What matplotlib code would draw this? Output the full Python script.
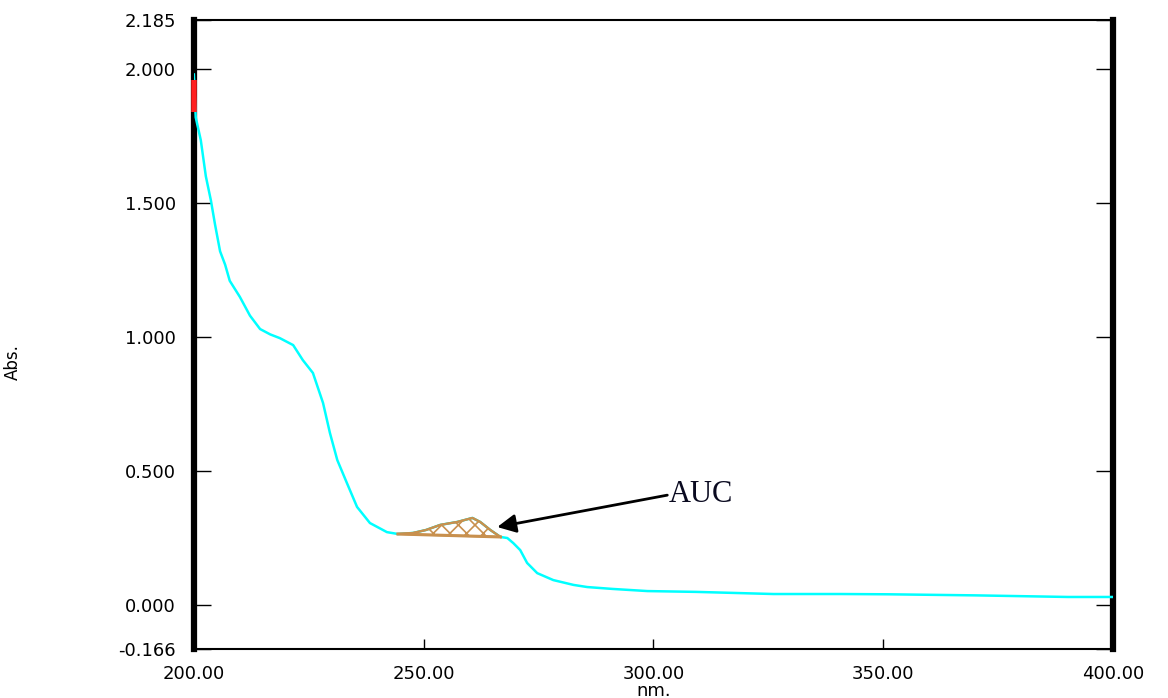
import matplotlib
matplotlib.use("Agg")
import matplotlib.pyplot as plt
import numpy as np

# UV spectrum (wavelength nm, absorbance)
wl = [200.0, 200.4, 201.5, 202.6, 203.7, 204.6, 205.7, 206.8, 207.8, 210.0,
      212.2, 214.4, 216.6, 218.7, 221.6, 223.7, 225.9, 228.1, 229.6, 231.2,
      233.3, 235.5, 238.3, 242.0, 244.4, 247.7, 250.5, 253.6, 257.3, 260.6,
      262.3, 264.5, 266.7, 268.2, 269.5, 271.0, 272.5, 274.7, 278.2, 282.6,
      285.6, 291.1, 298.7, 309.2, 326.1, 340.7, 351.0, 370.0, 390.2, 400.0]
absb = [1.98, 1.82, 1.735, 1.60, 1.51, 1.42, 1.32, 1.27, 1.21, 1.15,
        1.08, 1.03, 1.01, 0.996, 0.97, 0.914, 0.866, 0.754, 0.642, 0.541,
        0.455, 0.366, 0.306, 0.272, 0.265, 0.269, 0.28, 0.299, 0.310, 0.325,
        0.310, 0.280, 0.254, 0.250, 0.231, 0.205, 0.157, 0.119, 0.093, 0.075,
        0.067, 0.060, 0.052, 0.049, 0.041, 0.041, 0.040, 0.036, 0.030, 0.030]

# integration window for the AUC
auc_start = 244.4
auc_end = 266.7

# red marker segment at the start of the scan
red_x = [200.1, 200.1]
red_y = [1.96, 1.84]

x_ticks = [200, 250, 300, 350, 400]
x_labels = ["200.00", "250.00", "300.00", "350.00", "400.00"]
y_ticks = [-0.166, 0.0, 0.5, 1.0, 1.5, 2.0, 2.185]
y_labels = ["-0.166", "0.000", "0.500", "1.000", "1.500", "2.000", "2.185"]

plt.rcParams['font.family'] = ['DejaVu Sans']
plt.rcParams['hatch.linewidth'] = 1.2

fig = plt.figure(figsize=(11.68, 6.98), dpi=100)
ax = fig.add_axes([0.166, 0.0695, 0.787, 0.9025])

wl_a = np.array(wl)
ab_a = np.array(absb)
ax.plot(wl_a, ab_a, color='#00FFFF', lw=1.8, zorder=3)

# hatched area between curve and straight baseline
m = (wl_a >= auc_start) & (wl_a <= auc_end)
xs = wl_a[m]
ys = ab_a[m]
base = np.interp(xs, [xs[0], xs[-1]], [ys[0], ys[-1]])
ax.fill_between(xs, base, ys, facecolor='none', edgecolor='#C8904E',
                hatch='xx', lw=1.5, zorder=4)
ax.plot(xs, ys, color='#C8904E', lw=1.6, zorder=4)
ax.plot([xs[0], xs[-1]], [ys[0], ys[-1]], color='#C8904E', lw=2.2, zorder=4)

ax.plot(red_x, red_y, color='#FF2020', lw=4, zorder=6, clip_on=False,
        solid_capstyle='butt')

ax.annotate('', xy=(266.0, 0.291), xytext=(303.0, 0.410),
            arrowprops=dict(arrowstyle='-|>', color='black', lw=2,
                            mutation_scale=28, shrinkA=0, shrinkB=0),
            zorder=7)
ax.text(303.3, 0.414, 'AUC', family=['Liberation Serif', 'DejaVu Serif'],
        fontsize=22, color='#0a0a20', ha='left', va='center')

ax.set_xlim(200, 400)
ax.set_ylim(-0.166, 2.185)
ax.set_xticks(x_ticks)
ax.set_xticklabels(x_labels)
ax.set_yticks(y_ticks)
ax.set_yticklabels(y_labels)

ax.tick_params(axis='y', direction='in', length=12, width=1, pad=13,
               left=True, right=True, labelsize=13)
ax.tick_params(axis='x', direction='in', length=7, width=1, pad=11,
               top=False, labelsize=13)

ax.spines['left'].set_linewidth(4.5)
ax.spines['right'].set_linewidth(4.5)
ax.spines['top'].set_linewidth(1.5)
ax.spines['bottom'].set_linewidth(1.5)

ax.set_ylabel('Abs.', fontsize=12)
ax.yaxis.set_label_coords(-0.187, 0.457)
ax.set_xlabel('nm.', fontsize=13)
ax.xaxis.set_label_coords(0.5, -0.066)
ax.xaxis.label.set_va('center')

fig.savefig('out.png', dpi=100)
